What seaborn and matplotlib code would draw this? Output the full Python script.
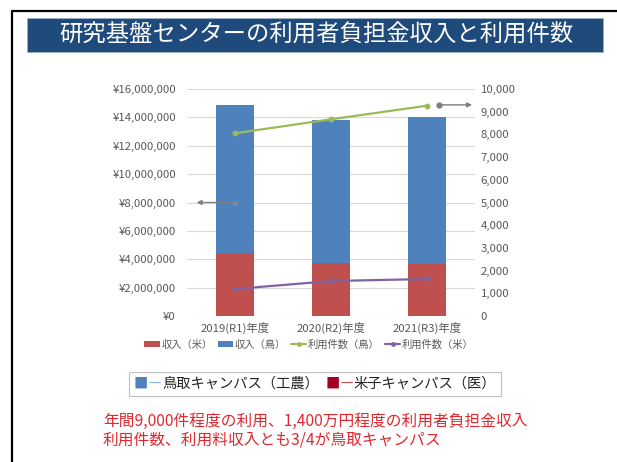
import numpy as np
import pandas as pd
import matplotlib
matplotlib.use("Agg")
import matplotlib.pyplot as plt
from matplotlib.patches import Rectangle, Patch
from matplotlib.lines import Line2D
from matplotlib.offsetbox import TextArea, HPacker, AnchoredOffsetbox
import seaborn as sns

# ---- data ----
years = ['2019(R1)年度', '2020(R2)年度', '2021(R3)年度']
income_yonago = [4.46e6, 3.71e6, 3.64e6]     # 収入（米）
income_tottori = [10.41e6, 10.10e6, 10.40e6]  # 収入（鳥）
count_tottori = [8050, 8665, 9265]            # 利用件数（鳥）
count_yonago = [1190, 1540, 1630]             # 利用件数（米）
left_ticks = [0, 2e6, 4e6, 6e6, 8e6, 10e6, 12e6, 14e6, 16e6]
right_ticks = [0, 1000, 2000, 3000, 4000, 5000, 6000, 7000, 8000, 9000, 10000]

title = '研究基盤センターの利用者負担金収入と利用件数'
note1 = '年間9,000件程度の利用、1,400万円程度の利用者負担金収入'
note2 = '利用件数、利用料収入とも3/4が鳥取キャンパス'

sns.set_theme(style='white')
FONT = ['Noto Sans CJK JP', 'DejaVu Sans']
plt.rcParams['font.family'] = FONT

C_RED = '#C0504D'
C_BLUE = '#4F81BD'
C_GREEN = '#9BBB59'
C_PURPLE = '#8064A2'
C_TXT = '#595959'

df = pd.DataFrame({
    'year': years,
    'total': np.array(income_yonago) + np.array(income_tottori),
    'yonago': income_yonago,
    'c_tot': count_tottori,
    'c_yon': count_yonago,
})

W, H = 617, 462
fig = plt.figure(figsize=(W / 100, H / 100), dpi=100)
fig.patch.set_facecolor('white')

ax = fig.add_axes([187 / W, 1 - 316 / H, 288 / W, 227 / H])
sns.barplot(data=df, x='year', y='total', color=C_BLUE, width=0.405,
            saturation=1, ax=ax, zorder=2, edgecolor='none', linewidth=0)
sns.barplot(data=df, x='year', y='yonago', color=C_RED, width=0.405,
            saturation=1, ax=ax, zorder=3, edgecolor='none', linewidth=0)
ax.set_ylim(0, 16e6)
ax.set_xlim(-0.5, 2.5)
ax.set_yticks(left_ticks)
ax.set_yticklabels(['¥0' if v == 0 else '¥{:,.0f}'.format(v) for v in left_ticks])
ax.yaxis.grid(True, color='#D9D9D9', linewidth=0.8, zorder=0)
ax.set_axisbelow(True)
for s in ax.spines.values():
    s.set_visible(False)
ax.set_xlabel('')
ax.set_ylabel('')
ax.tick_params(axis='y', length=0, pad=8, labelsize=8.2, labelcolor=C_TXT)
ax.tick_params(axis='x', length=0, pad=4, labelsize=8.2, labelcolor=C_TXT)

ax2 = ax.twinx()
sns.pointplot(data=df, x='year', y='c_tot', color=C_GREEN, markers='o',
              markersize=3, linewidth=1.6, ax=ax2, zorder=4)
sns.pointplot(data=df, x='year', y='c_yon', color=C_PURPLE, markers='o',
              markersize=3, linewidth=1.6, ax=ax2, zorder=4)
ax2.set_ylim(0, 10000)
ax2.set_xlim(-0.5, 2.5)
ax2.set_yticks(right_ticks)
ax2.set_yticklabels(['{:,}'.format(v) for v in right_ticks])
ax2.tick_params(axis='y', length=0, pad=4, labelsize=8.2, labelcolor=C_TXT)
ax2.grid(False)
for s in ax2.spines.values():
    s.set_visible(False)
ax2.set_xlabel('')
ax2.set_ylabel('')

# axis indicator arrows
ax.annotate('', xy=(-0.40, 8e6), xytext=(0.0, 8e6),
            arrowprops=dict(arrowstyle='-|>', color='#7F7F7F', lw=1.0,
                            mutation_scale=7, shrinkA=0, shrinkB=0), zorder=5)
ax.plot([0.0], [8e6], 'o', color='#8E8AA0', ms=3, alpha=0.6, zorder=5)
ax2.annotate('', xy=(2.47, 9300), xytext=(2.13, 9300),
             arrowprops=dict(arrowstyle='-|>', color='#7F7F7F', lw=1.0,
                             mutation_scale=7, shrinkA=0, shrinkB=0), zorder=5)
ax2.plot([2.13], [9300], 'o', color='#7F7F7F', ms=3.5, zorder=5)

# chart legend
handles = [
    Patch(facecolor=C_RED, edgecolor='none'),
    Patch(facecolor=C_BLUE, edgecolor='none'),
    Line2D([], [], color=C_GREEN, lw=1.6, marker='o', ms=2.5),
    Line2D([], [], color=C_PURPLE, lw=1.6, marker='o', ms=2.5),
]
labels = ['収入（米）', '収入（鳥）', '利用件数（鳥）', '利用件数（米）']
leg = fig.legend(handles, labels, loc='center', bbox_to_anchor=(309 / W, 1 - 344.5 / H),
                 ncol=4, frameon=False, fontsize=7.4, handlelength=1.5,
                 handleheight=0.45, handletextpad=0.15, columnspacing=0.5,
                 labelcolor=C_TXT)

# outer frame
fig.add_artist(Line2D([12 / W, 12 / W], [0, 1 - 11 / H], color='black', lw=1.6,
                      transform=fig.transFigure))
fig.add_artist(Line2D([12 / W, 1], [1 - 11 / H, 1 - 11 / H], color='black', lw=1.6,
                      transform=fig.transFigure))

# title banner
fig.add_artist(Rectangle((27 / W, 1 - 52 / H), 576 / W, 34 / H,
                         facecolor='#1F4A7C', edgecolor='#9AB0C8', lw=0.6,
                         transform=fig.transFigure))
fig.text(316 / W, 1 - 35.5 / H, title, color='white', fontsize=16.8,
         ha='center', va='center', family=FONT)

# campus legend box
fs = 10.3
parts = [
    TextArea('■', textprops=dict(color='#4F81BD', fontsize=fs, family=FONT)),
    TextArea('ー', textprops=dict(color='#8DB3E2', fontsize=fs, family=FONT)),
    TextArea('鳥取キャンパス（工農）', textprops=dict(color='#222222', fontsize=fs, family=FONT)),
    TextArea('  ', textprops=dict(fontsize=fs, family=FONT)),
    TextArea('■', textprops=dict(color='#A50021', fontsize=fs, family=FONT)),
    TextArea('ー', textprops=dict(color='#C0504D', fontsize=fs, family=FONT)),
    TextArea('米子キャンパス（医）', textprops=dict(color='#222222', fontsize=fs, family=FONT)),
]
box = HPacker(children=parts, align='center', pad=0, sep=0)
anch = AnchoredOffsetbox(loc='center', child=box, pad=0.3, borderpad=0,
                         frameon=True, bbox_to_anchor=(315 / W, 1 - 384 / H),
                         bbox_transform=fig.transFigure)
anch.patch.set_edgecolor('#BFBFBF')
anch.patch.set_linewidth(0.8)
fig.add_artist(anch)

# notes
fig.text(103 / W, 1 - 421 / H, note1, color='#E0282E', fontsize=11.3,
         ha='left', va='center', family=FONT)
fig.text(103 / W, 1 - 440 / H, note2, color='#E0282E', fontsize=11.3,
         ha='left', va='center', family=FONT)

fig.savefig('out.png', dpi=100, facecolor='white')
